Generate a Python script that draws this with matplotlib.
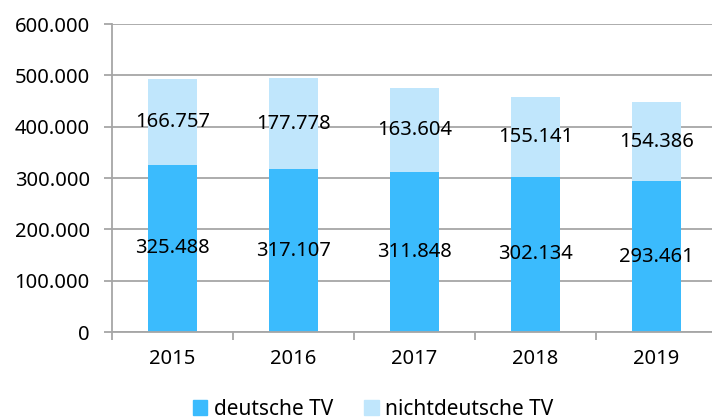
import matplotlib
matplotlib.use("Agg")
import matplotlib.pyplot as plt
from matplotlib.ticker import FuncFormatter, FixedLocator
from matplotlib.patches import Patch

years = ["2015", "2016", "2017", "2018", "2019"]
deutsche = [325488, 317107, 311848, 302134, 293461]
nichtdeutsche = [166757, 177778, 163604, 155141, 154386]
series_names = ["deutsche TV", "nichtdeutsche TV"]

c_dark = "#3bbbfd"
c_light = "#c0e6fc"
grid_c = "#a6a6a6"

plt.rcParams['font.family'] = ['Noto Sans', 'DejaVu Sans']

fig = plt.figure(figsize=(7.12, 4.19), dpi=100)
ax = fig.add_axes([112/712, 1-332/419, 605/712, (332-24)/419])

x = list(range(len(years)))
ax.bar(x, deutsche, width=0.4, color=c_dark, zorder=2)
ax.bar(x, nichtdeutsche, width=0.4, bottom=deutsche, color=c_light, zorder=2)

def de(v):
    return f"{v:,.0f}".replace(",", ".")

for i in x:
    ax.text(i, deutsche[i]/2, de(deutsche[i]), ha='center', va='center', fontsize=14.5, zorder=3)
    ax.text(i, deutsche[i] + nichtdeutsche[i]/2, de(nichtdeutsche[i]), ha='center', va='center', fontsize=14.5, zorder=3)

ax.set_xlim(-0.5, len(years)-0.5)
ax.set_ylim(0, 600000)
ax.set_yticks(range(0, 600001, 100000))
ax.yaxis.set_major_formatter(FuncFormatter(lambda v, p: de(v)))
ax.yaxis.grid(True, color=grid_c, linewidth=1.3, zorder=0)
ax.set_axisbelow(True)

ax.set_xticks(x)
ax.set_xticklabels(years)
ax.xaxis.set_minor_locator(FixedLocator([i - 0.5 for i in range(len(years)+1)]))
ax.tick_params(axis='x', which='major', length=0, pad=12, labelsize=14.5)
ax.tick_params(axis='x', which='minor', length=6, color=grid_c, width=1.3)
ax.tick_params(axis='y', length=6, color=grid_c, width=1.3, labelsize=14.5, pad=10)

for s in ['top', 'right']:
    ax.spines[s].set_visible(False)
for s in ['left', 'bottom']:
    ax.spines[s].set_color(grid_c)
    ax.spines[s].set_linewidth(1.3)

handles = [Patch(color=c_dark), Patch(color=c_light)]
fig.legend(handles, series_names, loc='center', bbox_to_anchor=(373/712, 1-409/419),
           ncol=2, frameon=False, fontsize=15, handlelength=0.7, handleheight=0.7,
           handletextpad=0.3, columnspacing=1.5)

fig.savefig("out.png", dpi=100)
